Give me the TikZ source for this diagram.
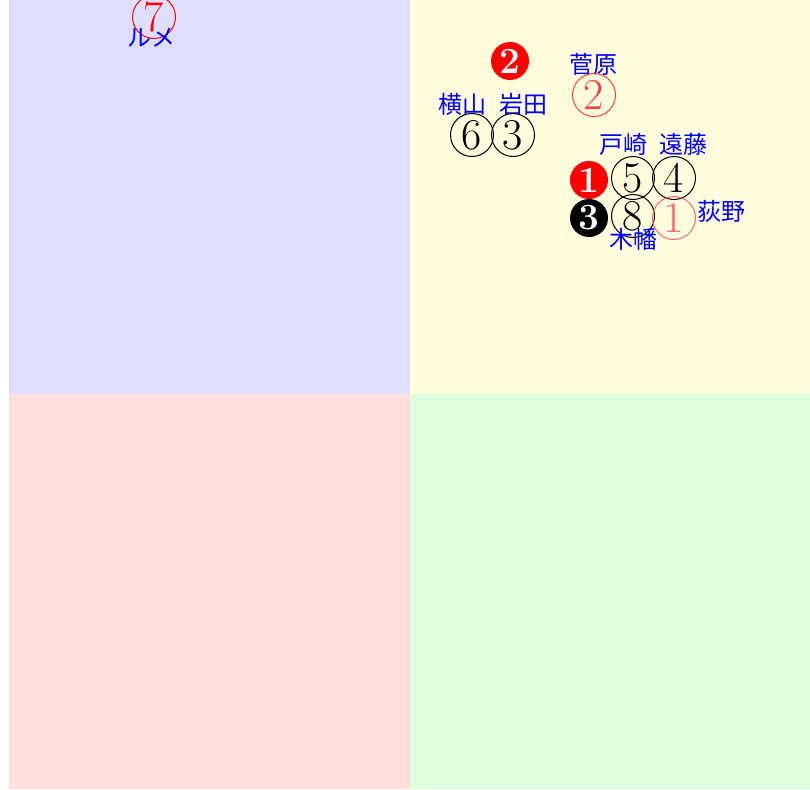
\documentclass[tikz,border=0pt]{standalone}
\usepackage{fontspec}
\newfontfamily\jp{Noto Sans CJK JP}
\begin{document}
\begin{tikzpicture}[x=1pt,y=-1pt,
  circnum/.style={circle,draw,line width=1pt,minimum size=43pt,inner sep=0pt,font=\fontsize{44}{44}\selectfont},
  filnum/.style={circle,minimum size=38pt,inner sep=0pt,text=white,font=\fontsize{37}{37}\selectfont\bfseries},
  lab/.style={text=blue,inner sep=0pt,font=\jp\fontsize{24}{24}\selectfont}]
\useasboundingbox (0,0) rectangle (810,789);
\fill[white] (0,0) rectangle (810,789);
\fill[blue!13] (9,0) rectangle (410,394);
\fill[yellow!13] (410,0) rectangle (810,394);
\fill[red!13] (9,394) rectangle (410,789);
\fill[green!13] (410,394) rectangle (810,789);
% circled numbers
\node[circnum,draw=red,text=red] (n7) at (154,17) {7};
\node[lab] (l7) at (151,38) {ルメ};
\node[filnum,fill=red] (f2) at (510,61) {2};
\node[lab] (l2) at (593,64) {菅原};
\node[circnum,draw=red!75,text=red!75] (n2) at (594,95) {2};
\node[lab] (l6) at (462,104) {横山};
\node[lab] (l3) at (523,104) {岩田};
\node[circnum] (n6) at (472,135) {6};
\node[circnum] (n3) at (513,135) {3};
\node[lab] (l5) at (623,144) {戸崎};
\node[lab] (l4) at (683,144) {遠藤};
\node[filnum,fill=red] (f1) at (589,180) {1};
\node[circnum] (n5) at (633,178) {5};
\node[circnum] (n4) at (674,178) {4};
\node[filnum,fill=black] (f3) at (589,218) {3};
\node[circnum] (n8) at (633,216) {8};
\node[circnum,draw=red!60,text=red!60] (n1) at (674,218) {1};
\node[lab] (l1) at (721,211) {荻野};
\node[lab] (l8) at (633,239) {木幡};
\end{tikzpicture}
\end{document}
